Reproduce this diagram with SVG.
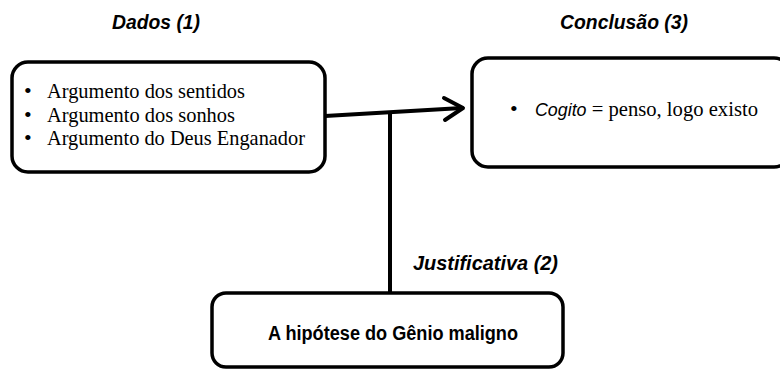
<svg xmlns="http://www.w3.org/2000/svg" width="780" height="370" viewBox="0 0 780 370">
<style>
.box{fill:#fff;stroke:#000;stroke-width:3.5}
.hd{font-family:"Liberation Sans",Arial,sans-serif;font-weight:bold;font-style:italic;font-size:21px;fill:#000}
.tm{font-family:"Liberation Serif","Times New Roman",serif;font-size:22px;fill:#000}
.it{font-family:"Liberation Sans",Arial,sans-serif;font-style:italic}
.bd{font-family:"Liberation Sans",Arial,sans-serif;font-weight:bold;font-size:20px;fill:#000}
.ln{fill:none;stroke:#000;stroke-width:4;stroke-linecap:round;stroke-linejoin:round}
</style>
<rect width="780" height="370" fill="#fff"/>
<g id="connectors">
<path class="ln" d="M325 116 L462 108"/>
<path class="ln" d="M444 98 L463 108 L445 120"/>
<path class="ln" d="M390 113 L390 292" stroke-linecap="butt"/>
</g>
<g id="dados">
<text class="hd" x="112" y="29" textLength="88" lengthAdjust="spacingAndGlyphs">Dados (1)</text>
<rect class="box" x="12" y="62" width="313" height="110" rx="16"/>
<text class="tm" x="24" y="98">•</text>
<text class="tm" x="47" y="98" textLength="198" lengthAdjust="spacingAndGlyphs">Argumento dos sentidos</text>
<text class="tm" x="24" y="121.5">•</text>
<text class="tm" x="47" y="121.5" textLength="188" lengthAdjust="spacingAndGlyphs">Argumento dos sonhos</text>
<text class="tm" x="24" y="145">•</text>
<text class="tm" x="47" y="145" textLength="258" lengthAdjust="spacingAndGlyphs">Argumento do Deus Enganador</text>
</g>
<g id="conclusao">
<text class="hd" x="560" y="29" textLength="128" lengthAdjust="spacingAndGlyphs">Conclusão (3)</text>
<rect class="box" x="472" y="58" width="318" height="109" rx="16"/>
<text class="tm" x="510" y="116">•</text>
<text class="tm" x="535" y="116" textLength="223" lengthAdjust="spacingAndGlyphs"><tspan class="it" font-size="19">Cogito</tspan> = penso, logo existo</text>
</g>
<g id="justificativa">
<text class="hd" x="413" y="270" textLength="145" lengthAdjust="spacingAndGlyphs">Justificativa (2)</text>
<rect class="box" x="212" y="293" width="351" height="74" rx="14"/>
<text class="bd" x="268" y="340" textLength="250" lengthAdjust="spacingAndGlyphs">A hipótese do Gênio maligno</text>
</g>
</svg>
